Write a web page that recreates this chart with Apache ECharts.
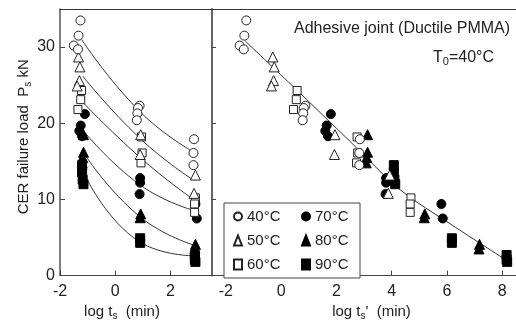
<!DOCTYPE html>
<html>
<head>
<meta charset="utf-8">
<script src="https://cdn.jsdelivr.net/npm/echarts@6/dist/echarts.min.js"></script>
<style>
  html, body { margin: 0; padding: 0; background: #fff; }
  #chart { width: 516px; height: 326px; }
</style>
</head>
<body>
<div id="chart"></div>
<script>
  // temperatures and their shift along log t (T0 = 40 C)
  var temps = ['40°C', '50°C', '60°C', '70°C', '80°C', '90°C']
  var shifts = [0, 1.03, 1.8, 2.9, 4.28, 5.28]

  // measured points [log ts, Ps kN]
  var p40 = [[-1.26, 33.5], [-1.33, 31.5], [-1.5, 30.2], [-1.35, 29.7], [0.88, 22.3], [0.82, 22.0], [0.8, 21.3], [0.78, 20.4], [2.85, 17.9], [2.83, 16.1], [2.83, 14.5]]
  var p50 = [[-1.33, 28.7], [-1.28, 27.4], [-1.3, 25.6], [-1.38, 24.9], [0.92, 18.5], [0.9, 15.9], [2.9, 13.2], [2.85, 10.8]]
  var p60 = [[-1.22, 24.3], [-1.25, 23.1], [-1.35, 21.8], [0.95, 18.2], [0.97, 16.1], [0.93, 14.8], [2.9, 10.2], [2.87, 9.4], [2.87, 8.3]]
  var p70 = [[-1.1, 21.2], [-1.25, 19.7], [-1.3, 19.0], [-1.2, 18.3], [0.9, 12.8], [0.9, 12.2], [0.88, 10.7], [2.9, 9.4], [2.95, 7.5]]
  var p80 = [[-1.15, 18.5], [-1.15, 16.2], [-1.18, 15.5], [-1.2, 14.8], [0.92, 8.1], [0.9, 7.6], [2.9, 4.1], [2.88, 3.5]]
  var p90 = [[-1.2, 14.5], [-1.2, 13.6], [-1.18, 12.6], [-1.15, 12.0], [0.9, 4.9], [0.9, 4.3], [2.88, 2.7], [2.88, 2.1], [2.9, 1.8]]
  var points = [p40, p50, p60, p70, p80, p90]

  // fitted curves, left panel
  var c40 = [[-1.22, 31.0], [0.9, 21.5], [2.8, 16.3]]
  var c50 = [[-1.18, 26.2], [0.9, 18.0], [2.8, 12.6]]
  var c60 = [[-1.24, 23.0], [0.9, 15.5], [2.75, 10.2]]
  var c70 = [[-1.15, 19.0], [0.9, 11.9], [2.8, 8.6]]
  var c80 = [[-1.05, 15.6], [0.9, 7.7], [2.85, 4.0]]
  var c90 = [[-1.0, 12.5], [0.85, 4.5], [2.85, 2.6]]
  var curves = [c40, c50, c60, c70, c80, c90]

  // master curve, right panel
  var master = [[-1.3, 30.8], [0.5, 24.6], [2.5, 17.6], [4.3, 11.3], [6.2, 6.6], [8.25, 1.8]]

  var xTicksL = [-2, 0, 2]
  var xTicksR = [-2, 0, 2, 4, 6, 8]
  var yTicks = [0, 10, 20, 30]

  var symbols = ['circle', 'triangle', 'rect', 'circle', 'triangle', 'rect']
  var sizes = [9, 10, 8, 9, 10, 9]
  var filled = [false, false, false, true, true, true]

  var ink = '#222'
  var font = 'Liberation Sans'
  var subRich = {
    a: { fontSize: 15, color: ink, fontFamily: font, fontWeight: 'normal' },
    s: { fontSize: 10, color: ink, fontFamily: font, fontWeight: 'normal', padding: [8, 0, 0, 0] }
  }
  var titleRich = {
    a: { fontSize: 16, color: ink, fontFamily: font, fontWeight: 'normal' },
    s: { fontSize: 11, color: ink, fontFamily: font, fontWeight: 'normal', padding: [8, 0, 0, 0] }
  }

  var series = []
  curves.forEach(function (c) {
    series.push({
      type: 'line', xAxisIndex: 0, yAxisIndex: 0, data: c, smooth: 0.5,
      showSymbol: false, silent: true, z: 2,
      lineStyle: { color: '#333', width: 1 }
    })
  })
  series.push({
    type: 'line', xAxisIndex: 1, yAxisIndex: 1, data: master, smooth: 0.3,
    showSymbol: false, silent: true, z: 2,
    lineStyle: { color: '#333', width: 1 }
  })
  // draw hot ones first so open markers sit on top
  for (var i = temps.length - 1; i >= 0; i--) {
    var style = filled[i]
      ? { color: '#000', borderColor: '#000', borderWidth: 1, opacity: 1 }
      : { color: '#fff', borderColor: '#222', borderWidth: 1, opacity: 1 }
    var shifted = points[i].map(function (p) { return [p[0] + shifts[i], p[1]] })
    series.push({
      name: temps[i], type: 'scatter', xAxisIndex: 0, yAxisIndex: 0,
      data: points[i], symbol: symbols[i], symbolSize: sizes[i], itemStyle: style, z: 3
    })
    series.push({
      name: temps[i], type: 'scatter', xAxisIndex: 1, yAxisIndex: 1,
      data: shifted, symbol: symbols[i], symbolSize: sizes[i], itemStyle: style, z: 3
    })
  }

  function bottomAxis(grid, min, max, ticks, name, pad) {
    return {
      type: 'value', gridIndex: grid, position: 'bottom', min: min, max: max,
      axisLine: { onZero: false, lineStyle: { color: '#444', width: 1.2 } },
      axisTick: { inside: true, length: 5, customValues: ticks, lineStyle: { color: '#444' } },
      axisLabel: { customValues: ticks, fontSize: 16, color: ink, fontFamily: font, margin: 8 },
      splitLine: { show: false },
      name: name, nameLocation: 'middle', nameGap: 26,
      nameTextStyle: { rich: subRich, padding: pad }
    }
  }
  function topAxis(grid, min, max) {
    return {
      type: 'value', gridIndex: grid, position: 'top', min: min, max: max,
      axisLine: { onZero: false, lineStyle: { color: '#333', width: 1.2 } },
      axisTick: { show: false }, axisLabel: { show: false }, splitLine: { show: false }
    }
  }

  var chart = echarts.init(document.getElementById('chart'))
  chart.setOption({
    animation: false,
    textStyle: { fontFamily: font, color: ink },
    title: [
      { text: 'Adhesive joint (Ductile PMMA)', left: 294, top: 21, padding: 0,
        textStyle: { fontSize: 16, fontWeight: 'normal', color: ink, fontFamily: font } },
      { text: '{a|T}{s|0}{a|=40°C}', left: 433, top: 48, padding: 0,
        textStyle: { fontWeight: 'normal', rich: titleRich } }
    ],
    legend: {
      data: ['40°C', '70°C', '50°C', '80°C', '60°C', '90°C'],
      left: 224, top: 203, width: 140, orient: 'horizontal',
      itemWidth: 8, itemHeight: 10, itemGap: 9,
      padding: [6, 0, 6, 9],
      borderColor: '#444', borderWidth: 1, backgroundColor: '#fff',
      textStyle: { fontSize: 15, color: ink, fontFamily: font, width: 45, lineHeight: 10 }
    },
    grid: [
      { left: 60, top: 9, width: 152, height: 267 },
      { left: 212, top: 9, width: 304, height: 267 }
    ],
    xAxis: [
      bottomAxis(0, -2, 3.5, xTicksL, '{a|log t}{s|s}{a|  (min)}', [0, 28, 0, 0]),
      bottomAxis(1, -2.5, 8.5, xTicksR, "{a|log t}{s|s}{a|'  (min)}", [0, 0, 0, 15]),
      topAxis(0, -2, 3.5),
      topAxis(1, -2.5, 8.5)
    ],
    yAxis: [
      {
        type: 'value', gridIndex: 0, min: 0, max: 35,
        axisLine: { onZero: false, lineStyle: { color: '#555', width: 1.5 } },
        axisTick: { inside: true, length: 5, customValues: yTicks, lineStyle: { color: '#444' } },
        axisLabel: { customValues: yTicks, fontSize: 16, color: ink, fontFamily: font, margin: 5 },
        splitLine: { show: false },
        name: '{a|CER failure load  P}{s|s}{a| kN}', nameLocation: 'middle', nameGap: 23, nameRotate: 90,
        nameTextStyle: { rich: subRich, padding: [0, 0, 0, 11] }
      },
      {
        type: 'value', gridIndex: 1, min: 0, max: 35,
        axisLine: { onZero: false, lineStyle: { color: '#666', width: 2 } },
        axisTick: { inside: true, length: 4, customValues: yTicks, lineStyle: { color: '#444' } },
        axisLabel: { show: false },
        splitLine: { show: false }
      }
    ],
    series: series
  })
</script>
</body>
</html>
